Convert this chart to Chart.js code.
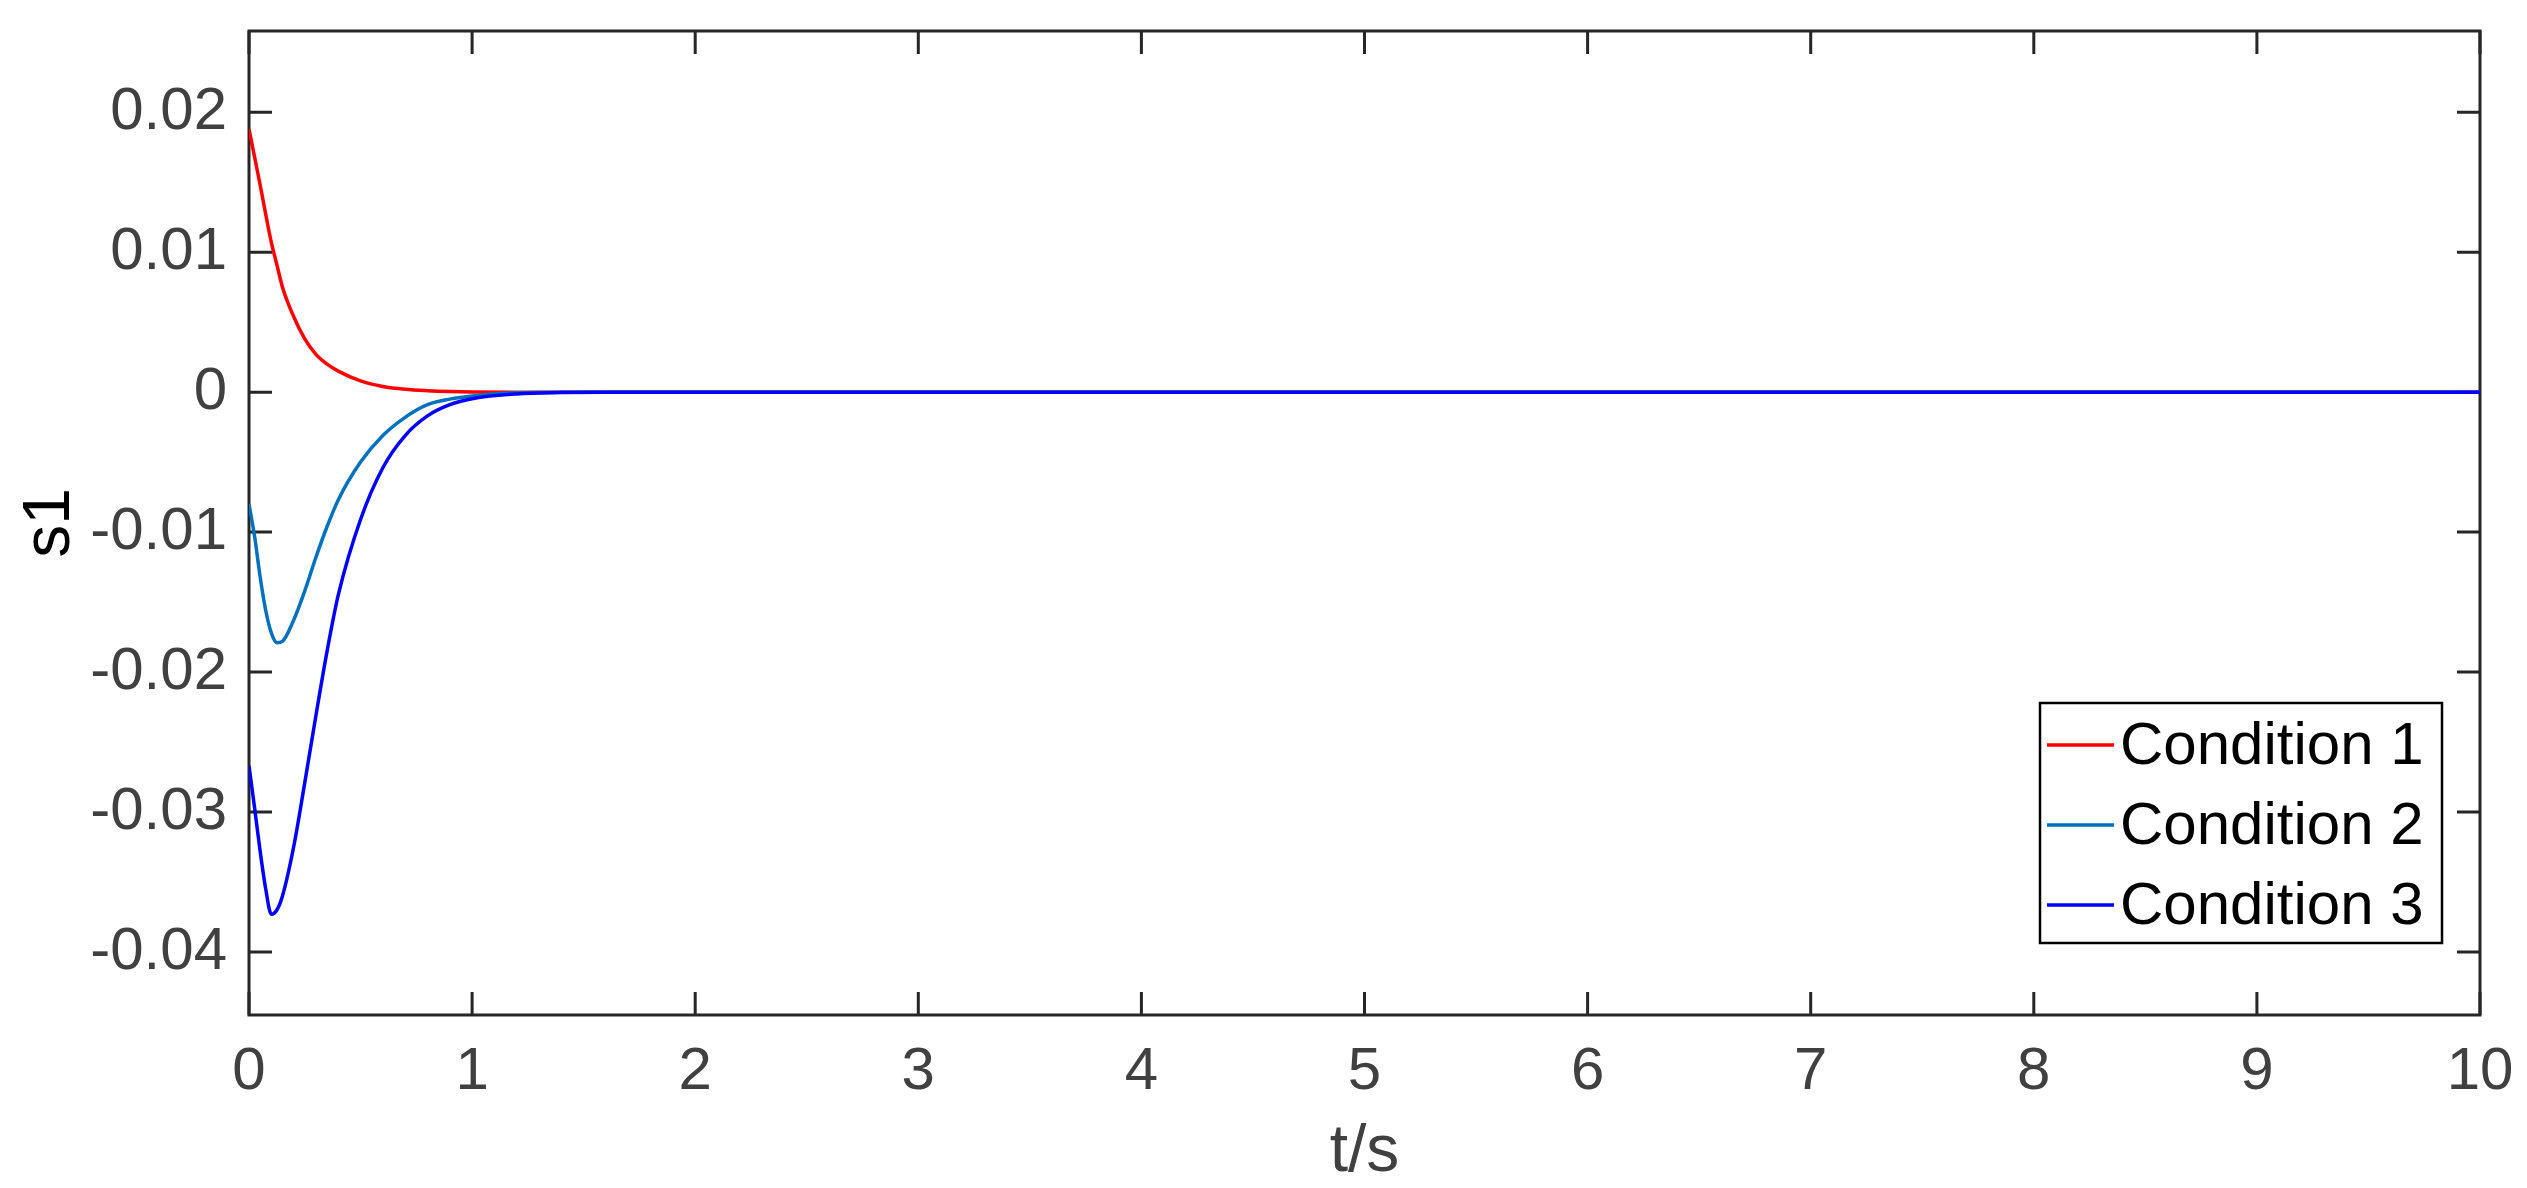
<!DOCTYPE html>
<html>
<head>
<meta charset="utf-8">
<title>s1</title>
<script src="https://cdn.jsdelivr.net/npm/chart.js@4"></script>
<style>
    html, body { margin: 0; padding: 0; background: #fff; }
    #s1Chart { display: block; }
</style>
</head>
<body>
<canvas id="s1Chart" width="2527" height="1188"></canvas>
<script>
// values
const time = [0, 0.025, 0.05, 0.075, 0.1, 0.125, 0.15, 0.2, 0.25, 0.3, 0.35, 0.4, 0.5, 0.6, 0.7, 0.8, 0.9, 1.0, 1.2, 1.4, 1.6, 2, 2.5, 3, 4, 5, 6, 8, 10];
const condition1 = [0.0188, 0.0168, 0.0148, 0.0127, 0.0107, 0.0091, 0.0075, 0.0054, 0.0038, 0.0027, 0.0020, 0.0015, 0.0008, 0.0004, 0.0002, 0.0001, 0.00004, 0.00001, 0, 0, 0, 0, 0, 0, 0, 0, 0, 0, 0];
const condition2 = [-0.0080, -0.0103, -0.0132, -0.0156, -0.0172, -0.0179, -0.0178, -0.0163, -0.0142, -0.0118, -0.0096, -0.0077, -0.0050, -0.0031, -0.0018, -0.0009, -0.0005, -0.00027, -0.00005, 0, 0, 0, 0, 0, 0, 0, 0, 0, 0];
const condition3 = [-0.0267, -0.0297, -0.0328, -0.0355, -0.0373, -0.0370, -0.0360, -0.0325, -0.0279, -0.0231, -0.0185, -0.0145, -0.0091, -0.0054, -0.0031, -0.0017, -0.0009, -0.00047, -0.00013, -0.00003, 0, 0, 0, 0, 0, 0, 0, 0, 0];

const seriesLabels = ["Condition 1", "Condition 2", "Condition 3"];
const xTicks = [0, 1, 2, 3, 4, 5, 6, 7, 8, 9, 10];
const xTickLabels = ["0", "1", "2", "3", "4", "5", "6", "7", "8", "9", "10"];
const yTicks = [-0.04, -0.03, -0.02, -0.01, 0, 0.01, 0.02];
const yTickLabels = ["-0.04", "-0.03", "-0.02", "-0.01", "0", "0.01", "0.02"];

document.addEventListener("DOMContentLoaded", function () {

    const FONT = "'Liberation Sans', Arial, sans-serif";
    const AXIS = "#262626";

    function points(ys) {
        return time.map((t, i) => ({ x: t, y: ys[i] }));
    }

    // box + inward ticks, matlab style
    const framePlugin = {
        id: "frame",
        beforeDatasetsDraw(chart) {
            const { ctx, chartArea: a, scales } = chart;
            const len = 23;
            ctx.save();
            ctx.strokeStyle = AXIS;
            ctx.lineWidth = 3;
            ctx.beginPath();
            xTicks.forEach(v => {
                const px = scales.x.getPixelForValue(v);
                ctx.moveTo(px, a.bottom); ctx.lineTo(px, a.bottom - len);
                ctx.moveTo(px, a.top); ctx.lineTo(px, a.top + len);
            });
            yTicks.forEach(v => {
                const py = scales.y.getPixelForValue(v);
                ctx.moveTo(a.left, py); ctx.lineTo(a.left + len, py);
                ctx.moveTo(a.right, py); ctx.lineTo(a.right - len, py);
            });
            ctx.stroke();
            ctx.strokeRect(a.left, a.top, a.right - a.left, a.bottom - a.top);
            ctx.restore();
        }
    };

    // legend box inside the axes, lower right
    const legendPlugin = {
        id: "boxLegend",
        afterDatasetsDraw(chart) {
            const ctx = chart.ctx;
            const box = { x: 2040, y: 703, w: 402, h: 240 };
            const rowH = box.h / 3;
            ctx.save();
            ctx.fillStyle = "#fff";
            ctx.fillRect(box.x, box.y, box.w, box.h);
            ctx.strokeStyle = "#000";
            ctx.lineWidth = 2.5;
            ctx.strokeRect(box.x, box.y, box.w, box.h);
            ctx.font = "60px " + FONT;
            ctx.textBaseline = "middle";
            ctx.textAlign = "left";
            chart.data.datasets.forEach((ds, i) => {
                const cy = box.y + rowH * (i + 0.5) + 2;
                ctx.strokeStyle = ds.borderColor;
                ctx.lineWidth = 3.5;
                ctx.beginPath();
                ctx.moveTo(box.x + 7, cy);
                ctx.lineTo(box.x + 74, cy);
                ctx.stroke();
                ctx.fillStyle = "#000";
                ctx.fillText(ds.label, box.x + 80, cy + 2);
            });
            ctx.restore();
        }
    };

    const canvas = document.getElementById("s1Chart");

    new Chart(canvas, {
        type: "line",
        data: {
            datasets: [
                { label: seriesLabels[0], data: points(condition1), borderColor: "#FF0000", order: 3 },
                { label: seriesLabels[1], data: points(condition2), borderColor: "#0072BD", order: 2 },
                { label: seriesLabels[2], data: points(condition3), borderColor: "#0000FF", order: 1 }
            ]
        },
        options: {
            responsive: false,
            animation: false,
            devicePixelRatio: 1,
            layout: { padding: { left: 0, top: 31, right: 47, bottom: 0 } },
            elements: {
                point: { radius: 0 },
                line: { borderWidth: 3.5, cubicInterpolationMode: "monotone", fill: false }
            },
            plugins: {
                legend: { display: false },
                tooltip: { enabled: false }
            },
            scales: {
                x: {
                    type: "linear",
                    min: 0,
                    max: 10,
                    grid: { display: false, drawTicks: false },
                    border: { display: false },
                    afterBuildTicks: s => { s.ticks = xTicks.map(v => ({ value: v })); },
                    afterFit: s => {
                        s.height = 173;
                        s.paddingLeft = 0;
                        s.paddingRight = 0;
                    },
                    ticks: {
                        autoSkip: false,
                        maxRotation: 0,
                        padding: 21,
                        color: "#404040",
                        font: { family: FONT, size: 60 },
                        callback: (v, i) => xTickLabels[i]
                    },
                    title: {
                        display: true,
                        text: "t/s",
                        color: "#404040",
                        font: { family: FONT, size: 66, lineHeight: 1 },
                        padding: { top: 0, bottom: 2 }
                    }
                },
                y: {
                    type: "linear",
                    min: -0.0445,
                    max: 0.0258,
                    grid: { display: false, drawTicks: false },
                    border: { display: false },
                    afterBuildTicks: s => { s.ticks = yTicks.map(v => ({ value: v })); },
                    afterFit: s => {
                        s.width = 249;
                        s.paddingTop = 0;
                        s.paddingBottom = 0;
                    },
                    ticks: {
                        padding: 22,
                        color: "#404040",
                        font: { family: FONT, size: 60 },
                        callback: (v, i) => yTickLabels[i]
                    },
                    title: {
                        display: true,
                        text: "s1",
                        color: "#000",
                        font: { family: FONT, size: 66, lineHeight: 1 },
                        padding: { top: 18, bottom: 0 }
                    }
                }
            }
        },
        plugins: [framePlugin, legendPlugin]
    });

});
</script>
</body>
</html>
